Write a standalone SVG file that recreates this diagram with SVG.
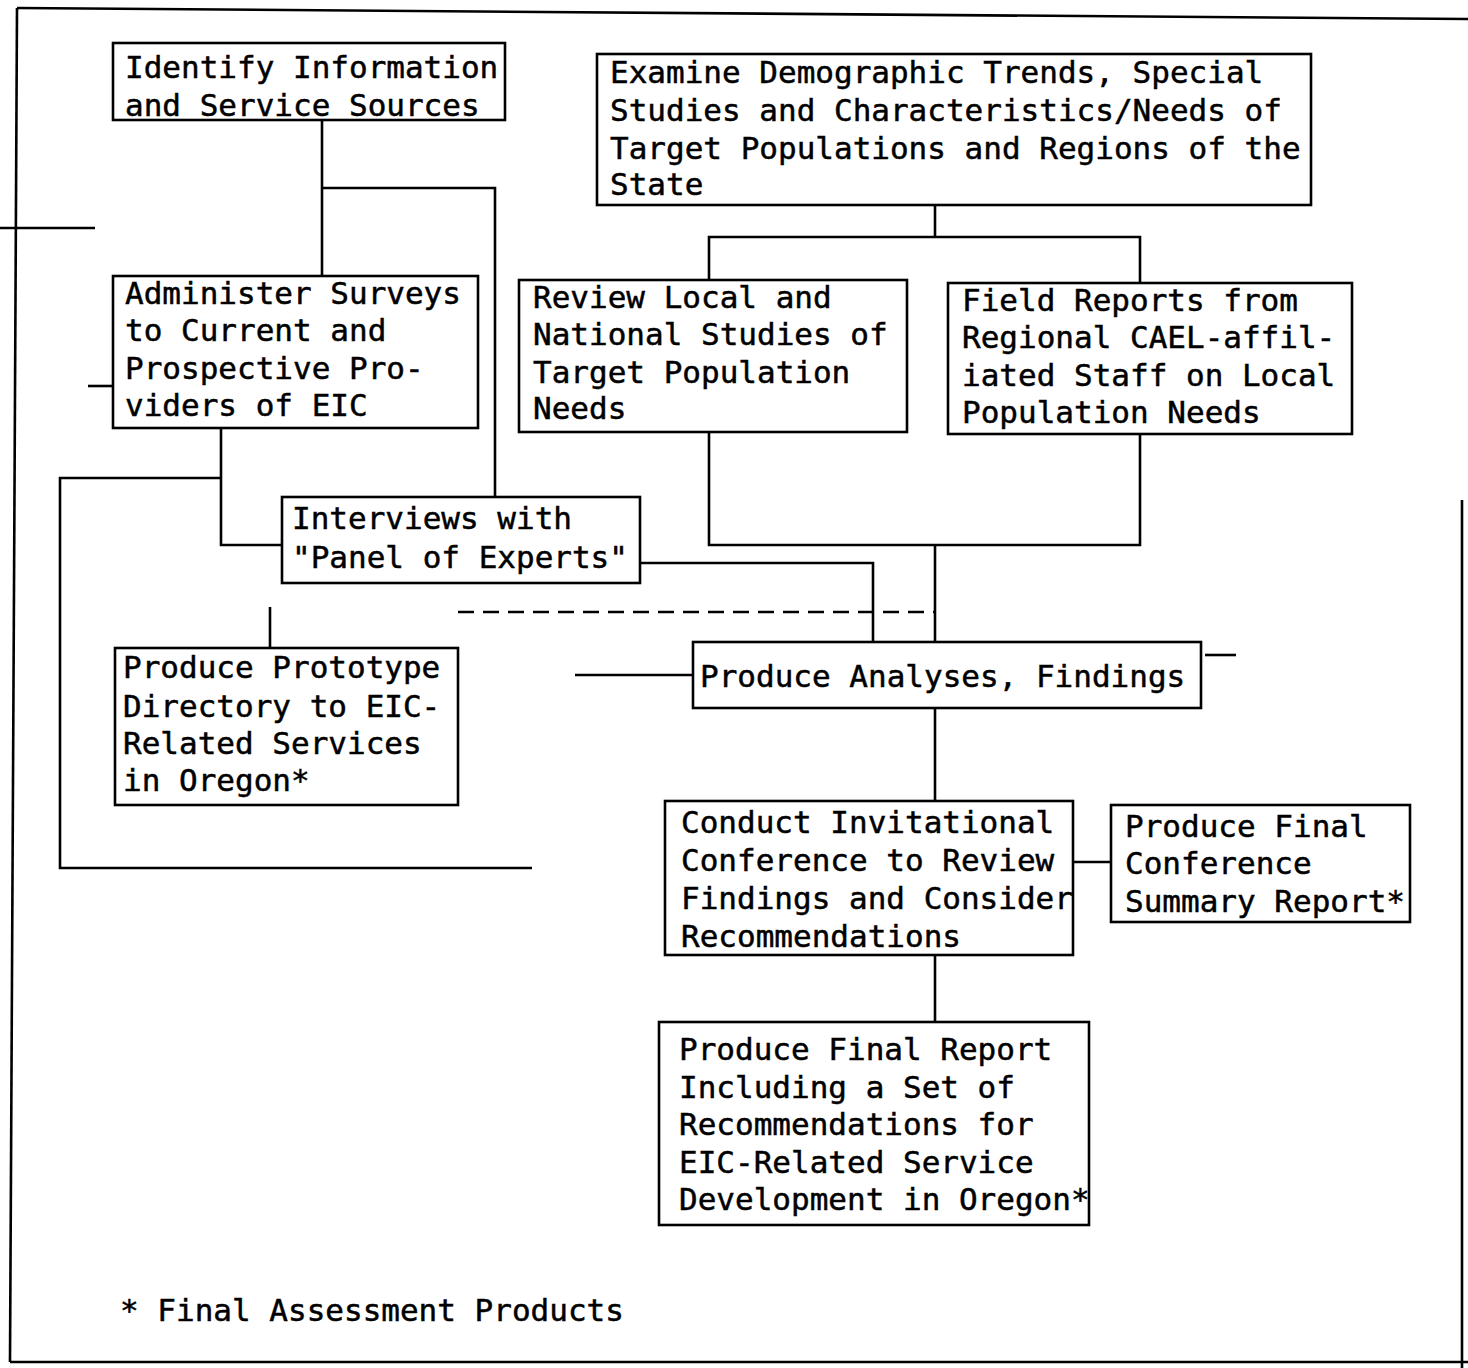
<svg xmlns="http://www.w3.org/2000/svg" width="1468" height="1368" viewBox="0 0 1468 1368">
<style>
.box{fill:none;stroke:#000;stroke-width:2.6}
.ln{fill:none;stroke:#000;stroke-width:2.6}
.dash{stroke-dasharray:16 9}
text{font-family:"DejaVu Sans Mono","Liberation Mono",monospace;font-size:31px;fill:#000;stroke:#000;stroke-width:0.5}
</style>
<rect width="1468" height="1368" fill="#fff"/>
<g id="frame" class="ln">
<path d="M17 8 L1468 19"/>
<path d="M17 8 L10 1362"/>
<path d="M10 1362 L1468 1362"/>
<path d="M1462 500 L1462 1368"/>
<path d="M0 228 L95 228"/>
<path d="M88 386 L113 386"/>
<path d="M1205 655 L1236 655"/>
</g>
<g id="connectors" class="ln">
<path d="M322 120 V276"/>
<path d="M322 188 H495 V497"/>
<path d="M221 428 V545 H282"/>
<path d="M221 478 H60 V868 H532"/>
<path d="M270 607 V648"/>
<path class="dash" d="M458 612 H935"/>
<path d="M640 563 H873 V642"/>
<path d="M935 205 V237"/>
<path d="M709 280 V237 H1140 V283"/>
<path d="M709 432 V545 H1140 V434"/>
<path d="M935 545 V642"/>
<path d="M575 675 H693"/>
<path d="M935 708 V801"/>
<path d="M1073 862 H1111"/>
<path d="M935 955 V1022"/>
</g>
<g id="n1"><rect class="box" x="113" y="43" width="392" height="77"/>
<text x="125" y="78">Identify Information</text><text x="125" y="116">and Service Sources</text></g>
<g id="n2"><rect class="box" x="597" y="54" width="714" height="151"/>
<text x="610" y="83">Examine Demographic Trends, Special</text>
<text x="610" y="121">Studies and Characteristics/Needs of</text>
<text x="610" y="159">Target Populations and Regions of the</text>
<text x="610" y="195">State</text></g>
<g id="n3"><rect class="box" x="113" y="276" width="365" height="152"/>
<text x="125" y="304">Administer Surveys</text>
<text x="125" y="341">to Current and</text>
<text x="125" y="379">Prospective Pro-</text>
<text x="125" y="416">viders of EIC</text></g>
<g id="n4"><rect class="box" x="519" y="280" width="388" height="152"/>
<text x="533" y="308">Review Local and</text>
<text x="533" y="345">National Studies of</text>
<text x="533" y="383">Target Population</text>
<text x="533" y="419">Needs</text></g>
<g id="n5"><rect class="box" x="948" y="283" width="404" height="151"/>
<text x="962" y="311">Field Reports from</text>
<text x="962" y="348">Regional CAEL-affil-</text>
<text x="962" y="386">iated Staff on Local</text>
<text x="962" y="423">Population Needs</text></g>
<g id="n6"><rect class="box" x="282" y="497" width="358" height="86"/>
<text x="292" y="529">Interviews with</text>
<text x="292" y="568">"Panel of Experts"</text></g>
<g id="n7"><rect class="box" x="115" y="648" width="343" height="157"/>
<text x="123" y="678">Produce Prototype</text>
<text x="123" y="717">Directory to EIC-</text>
<text x="123" y="754">Related Services</text>
<text x="123" y="791">in Oregon*</text></g>
<g id="n8"><rect class="box" x="693" y="642" width="508" height="66"/>
<text x="700" y="687">Produce Analyses, Findings</text></g>
<g id="n9"><rect class="box" x="665" y="801" width="408" height="154"/>
<text x="681" y="833">Conduct Invitational</text>
<text x="681" y="871">Conference to Review</text>
<text x="681" y="909">Findings and Consider</text>
<text x="681" y="947">Recommendations</text></g>
<g id="n10"><rect class="box" x="1111" y="805" width="299" height="117"/>
<text x="1125" y="837">Produce Final</text>
<text x="1125" y="874">Conference</text>
<text x="1125" y="912">Summary Report*</text></g>
<g id="n11"><rect class="box" x="659" y="1022" width="430" height="203"/>
<text x="679" y="1060">Produce Final Report</text>
<text x="679" y="1098">Including a Set of</text>
<text x="679" y="1135">Recommendations for</text>
<text x="679" y="1173">EIC-Related Service</text>
<text x="679" y="1210">Development in Oregon*</text></g>
<g id="legend"><text x="120" y="1321">* Final Assessment Products</text></g>
</svg>
